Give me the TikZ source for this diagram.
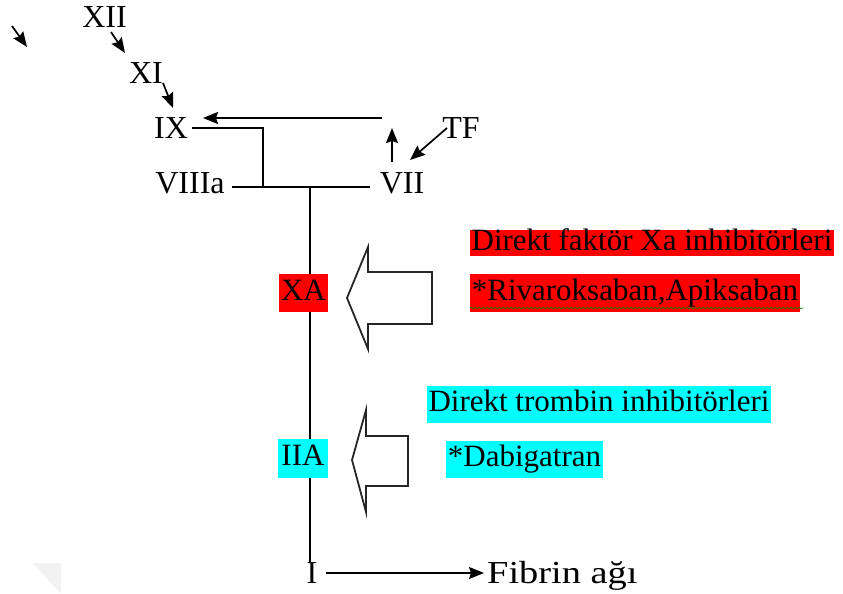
\documentclass[tikz,border=0pt]{standalone}
\usepackage{fontspec}
\setmainfont{Liberation Serif}
\usetikzlibrary{arrows.meta,decorations.pathmorphing}
\definecolor{hlred}{RGB}{255,0,0}
\definecolor{hlcyan}{RGB}{0,255,255}
\begin{document}
\begin{tikzpicture}[x=1pt,y=-1pt,
  lbl/.style={font=\fontsize{32}{36}\selectfont, inner sep=0pt, anchor=base},
  hl/.style={font=\fontsize{31}{36}\selectfont, inner xsep=2pt, inner ysep=0pt, text height=21pt, text depth=7pt},
  ln/.style={line width=1.7pt, black},
  arr/.style={line width=1.7pt, black, -{Stealth[length=15pt,width=12pt,inset=2pt]}},
  blockarrow/.style={line width=1.8pt, black!85, fill=white, line join=miter}]
\useasboundingbox (0,0) rectangle (843,594);
% faint corner shadow
\fill[gray!10] (33,563) -- (61,563) -- (61,594) -- cycle;
% text labels
\node[lbl] (xii) at (104.5,28) {XII};
\node[lbl] (xi) at (146,83) {XI};
\node[lbl] (ix) at (171,138) {IX};
\node[lbl] (viiia) at (190,193) {VIIIa};
\node[lbl] (vii) at (402,193) {VII};
\node[lbl] (tf) at (461,138) {TF};
\node[lbl] (i) at (312,583) {I};
\node[lbl, anchor=base west] (fib) at (487,583) {\scalebox{1.2}[1]{Fibrin ağı}};
% coordinates
\coordinate (a0) at (12,26);
\coordinate (a1) at (27,47);
\coordinate (xiis) at (111,32);
\coordinate (xiie) at (125,53);
\coordinate (xis) at (163,83);
\coordinate (xie) at (173,108);
\coordinate (vs) at (382,118);
\coordinate (ve) at (203,118);
\coordinate (ixr) at (192,128);
\coordinate (ixc) at (263,128);
\coordinate (jn) at (263,187);
\coordinate (hl) at (232,187);
\coordinate (hr) at (370,187);
\coordinate (vt) at (310,187);
\coordinate (vb) at (310,563);
\coordinate (us) at (392,162);
\coordinate (ue) at (392,128);
\coordinate (ts) at (447,128);
\coordinate (te) at (410,160);
\coordinate (fs) at (326,573);
\coordinate (fe) at (484,573);
% connectors
\draw[arr] (a0) -- (a1);
\draw[arr] (xiis) -- (xiie);
\draw[arr] (xis) -- (165,88) -- (xie);
\draw[arr] (vs) -- (ve);
\draw[ln] (ixr) -- (ixc) -- (jn);
\draw[ln] (hl) -- (hr);
\draw[ln] (vt) -- (vb);
\draw[arr] (us) -- (ue);
\draw[arr] (ts) -- (te);
\draw[arr] (fs) -- (fe);
% highlighted nodes
\node[hl, fill=hlred, minimum height=38pt] (xa) at (303.5,293) {XA};
\node[hl, fill=hlcyan, minimum height=39pt, inner xsep=3.5pt] (iia) at (303,458.5) {IIA};
\node[hl, fill=hlred, text height=20pt, text depth=6pt] (dfx) at (652,243) {Direkt faktör Xa inhibitörleri};
\node[hl, fill=hlred, minimum height=38pt] (riv) at (635,293) {*Rivaroksaban,Apiksaban};
\node[hl, fill=hlcyan, minimum height=37pt] (dti) at (599,404.5) {Direkt trombin inhibitörleri};
\node[hl, fill=hlcyan, minimum height=37pt] (dab) at (524.5,459.5) {*Dabigatran};
% spell-check squiggle
\draw[green!50!black, line width=0.6pt, decorate, decoration={snake, amplitude=0.8pt, segment length=4pt}] (470,308) -- (803,308);
% block arrows
\draw[blockarrow] (347,298) -- (368,247) -- (368,272) -- (432,272) -- (432,324) -- (368,324) -- (368,349) -- cycle;
\draw[blockarrow] (352,460) -- (366,410) -- (366,436) -- (408,436) -- (408,486) -- (366,486) -- (366,512) -- cycle;
\end{tikzpicture}
\end{document}
